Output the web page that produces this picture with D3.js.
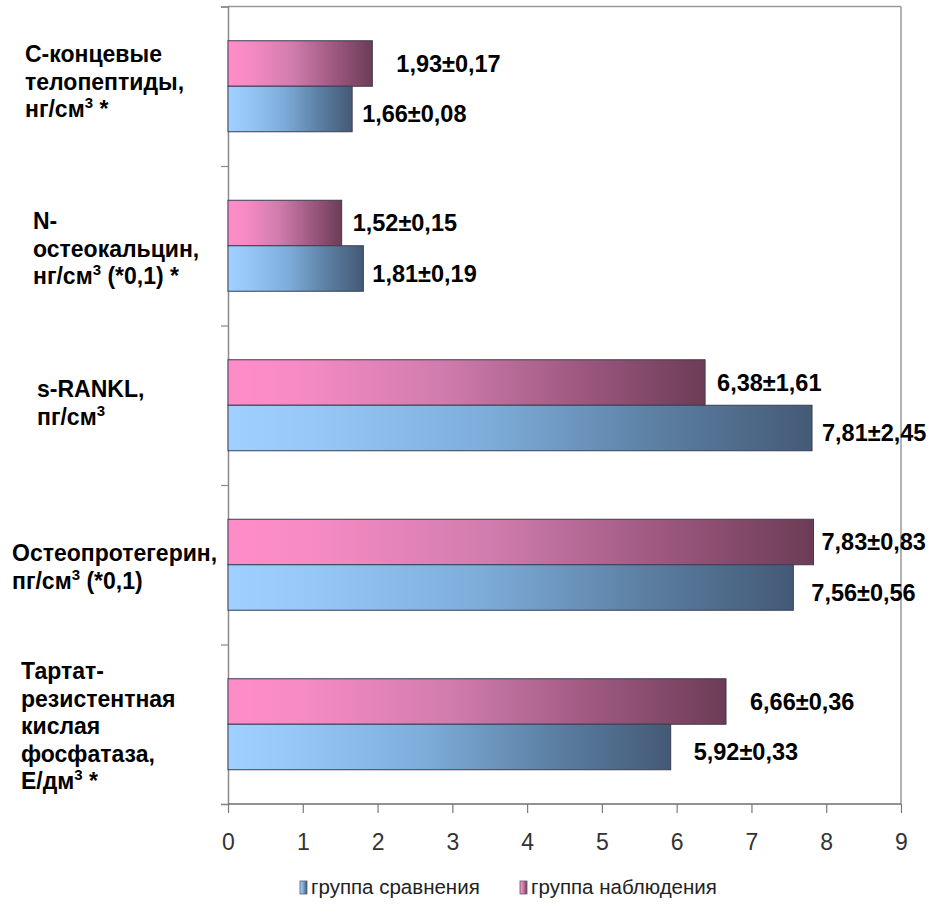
<!DOCTYPE html>
<html>
<head>
<meta charset="utf-8">
<script src="https://cdn.jsdelivr.net/npm/d3@7"></script>
<style>
  html, body { margin: 0; padding: 0; background: #fff; }
  svg { display: block; }
</style>
</head>
<body>
<svg id="chart" width="935" height="914"></svg>
<script>
// ---- data ----
const categories = [
  "С-концевые\nтелопептиды,\nнг/см³ *",
  "N-\nостеокальцин,\nнг/см³ (*0,1) *",
  "s-RANKL,\nпг/см³",
  "Остеопротегерин,\nпг/см³ (*0,1)",
  "Тартат-\nрезистентная\nкислая\nфосфатаза,\nЕ/дм³ *"
];
const seriesNames = ["группа наблюдения", "группа сравнения"];
const observationValues = [1.93, 1.52, 6.38, 7.83, 6.66];
const comparisonValues  = [1.66, 1.81, 7.81, 7.56, 5.92];
const observationLabels = ["1,93±0,17", "1,52±0,15", "6,38±1,61", "7,83±0,83", "6,66±0,36"];
const comparisonLabels  = ["1,66±0,08", "1,81±0,19", "7,81±2,45", "7,56±0,56", "5,92±0,33"];
const xTicks = [0, 1, 2, 3, 4, 5, 6, 7, 8, 9];
const legendOrder = ["группа сравнения", "группа наблюдения"];

// ---- layout (not data) ----
const catLabelX = [25, 33, 37, 12, 21];
const catLabelFirstBaseline = [62, 229, 397, 561, 679];
const catLineHeight = 27.5;
const obsLabelDx = [24, 11, 12, 8, 24];
const cmpLabelDx = [10, 9, 10, 18, 23];

const svg = d3.select("#chart");
const pLeft = 228, pRight = 901, pTop = 6.5, pBottom = 804;

const x = d3.scaleLinear().domain([0, 9]).range([pLeft, pRight]);
const y = d3.scaleBand().domain(d3.range(categories.length)).range([pTop, pBottom]).padding(0);
const sub = d3.scaleBand().domain(seriesNames).range([0, y.bandwidth()]).paddingInner(0).paddingOuter(0.753);
const yBound = d3.scaleLinear().domain([0, categories.length]).range([pTop, pBottom]);

// gradients
const defs = svg.append("defs");
function grad(id, stops) {
  const g = defs.append("linearGradient").attr("id", id)
    .attr("x1", "0%").attr("x2", "100%").attr("y1", "0%").attr("y2", "0%");
  stops.forEach(s => g.append("stop").attr("offset", s[0]).attr("stop-color", s[1]));
}
grad("gPink", [["0%", "#ff8cc8"], ["15%", "#f68bc4"], ["45%", "#d07cad"], ["75%", "#9b577e"], ["100%", "#6c3c56"]]);
grad("gBlue", [["0%", "#a0d0ff"], ["15%", "#96c7f6"], ["45%", "#7dacd9"], ["75%", "#5a7da0"], ["100%", "#445a76"]]);
const fills = { "группа наблюдения": "url(#gPink)", "группа сравнения": "url(#gBlue)" };

// frame: top and right border
svg.append("line").attr("x1", pLeft).attr("x2", pRight).attr("y1", pTop).attr("y2", pTop)
  .attr("stroke", "#9a9a9a").attr("stroke-width", 1.5);
svg.append("line").attr("x1", pRight).attr("x2", pRight).attr("y1", pTop).attr("y2", pBottom)
  .attr("stroke", "#9a9a9a").attr("stroke-width", 1.5);

// y axis (boundaries)
const yAxis = d3.axisLeft(yBound).tickValues(d3.range(categories.length + 1)).tickSize(7).tickFormat("");
const gy = svg.append("g").attr("transform", `translate(${pLeft},0)`).call(yAxis);
gy.select(".domain").attr("stroke", "#8a8a8a").attr("stroke-width", 1.5);
gy.selectAll(".tick line").attr("stroke", "#8a8a8a").attr("stroke-width", 1.2);

// x axis
const xAxis = d3.axisBottom(x).tickValues(xTicks).tickSize(9).tickPadding(21).tickFormat(d3.format("d"));
const gx = svg.append("g").attr("transform", `translate(0,${pBottom})`).call(xAxis);
gx.select(".domain").attr("stroke", "#6e6e6e").attr("stroke-width", 1.6).attr("d", `M${pLeft},0H${pRight}`);
gx.selectAll(".tick line").attr("stroke", "#7a7a7a").attr("stroke-width", 1.2);
gx.selectAll(".tick text")
  .attr("font-family", "'Liberation Sans Narrow', 'Arial Narrow', sans-serif")
  .attr("font-size", 23).attr("fill", "#333");

// bars
const rows = categories.map((c, i) => ({ i, obs: observationValues[i], cmp: comparisonValues[i] }));
const groups = svg.append("g").selectAll("g").data(rows).join("g")
  .attr("transform", d => `translate(0,${y(d.i)})`);
groups.each(function(d) {
  const g = d3.select(this);
  const items = [
    { s: seriesNames[0], v: d.obs, lab: observationLabels[d.i], dx: obsLabelDx[d.i] },
    { s: seriesNames[1], v: d.cmp, lab: comparisonLabels[d.i], dx: cmpLabelDx[d.i] }
  ];
  g.selectAll("rect").data(items).join("rect")
    .attr("x", x(0)).attr("y", e => sub(e.s))
    .attr("width", e => x(e.v) - x(0)).attr("height", sub.bandwidth())
    .attr("fill", e => fills[e.s])
    .attr("stroke", "#3c3c52").attr("stroke-width", 1);
  g.selectAll("text").data(items).join("text")
    .attr("x", e => x(e.v) + e.dx)
    .attr("y", (e, k) => sub(e.s) + sub.bandwidth() / 2 + (k === 0 ? 0 : 5))
    .attr("dy", "0.36em")
    .attr("font-family", "'Liberation Sans', Arial, sans-serif")
    .attr("font-weight", "bold").attr("font-size", 23.5).attr("fill", "#000")
    .text(e => e.lab);
});

// category labels
categories.forEach((c, i) => {
  const t = svg.append("text")
    .attr("font-family", "'Liberation Sans', Arial, sans-serif")
    .attr("font-weight", "bold").attr("font-size", 23).attr("fill", "#000");
  c.split("\n").forEach((line, k) => {
    const parts = line.split("³");
    const baseY = catLabelFirstBaseline[i] + k * catLineHeight;
    t.append("tspan").attr("x", catLabelX[i]).attr("y", baseY).text(parts[0]);
    if (parts.length > 1) {
      t.append("tspan").attr("y", baseY - 9).attr("font-size", 15).text("3");
      t.append("tspan").attr("y", baseY).text(parts[1]);
    }
  });
});

// legend
const legendX = [300, 520];
const lg = svg.append("g").selectAll("g").data(legendOrder).join("g")
  .attr("transform", (d, i) => `translate(${legendX[i]},881)`);
lg.append("rect").attr("width", 7).attr("height", 13)
  .attr("fill", d => fills[d]).attr("stroke", "#5a5a6a").attr("stroke-width", 0.8);
lg.append("text").attr("x", 11).attr("y", 13)
  .attr("font-family", "'Liberation Sans Narrow', 'Arial Narrow', sans-serif")
  .attr("font-size", 20.5).attr("fill", "#222")
  .text(d => d);
</script>
</body>
</html>
